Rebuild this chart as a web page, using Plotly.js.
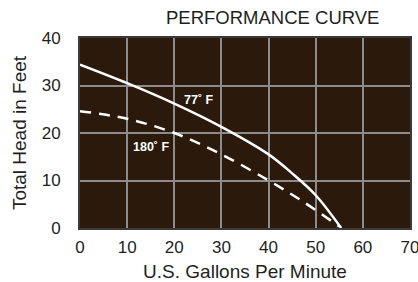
<!DOCTYPE html>
<html><head><meta charset="utf-8">
<script src="https://cdn.plot.ly/plotly-3.0.1.min.js"></script>
<style>html,body{margin:0;padding:0;background:#fff}#c{width:418px;height:282px}</style>
</head><body><div id="c"></div>
<script>
const flow77 = [0, 10, 20, 30, 40, 45, 50, 55.4];
const head77 = [34.4, 30.5, 26.2, 21.3, 15.5, 11.5, 6.9, 0];
const flow180 = [0, 10, 20, 30, 40, 47.4, 55];
const head180 = [24.6, 23, 20, 15.5, 10, 5.5, 0.3];
const labels = ["77˚ F", "180˚ F"];
const xTicks = [0, 10, 20, 30, 40, 50, 60, 70];
const yTicks = [0, 10, 20, 30, 40];

const fam = "Liberation Sans, Arial, sans-serif";
const ink = "#231f20";
Plotly.newPlot("c", [
  {x: flow77, y: head77, mode: "lines", line: {color: "#fff", width: 2.5, shape: "spline", smoothing: 1}, hoverinfo: "none"},
  {x: flow180, y: head180, mode: "lines", line: {color: "#fff", width: 2.5, dash: "11px,8px", shape: "spline", smoothing: 1}, hoverinfo: "none"}
], {
  width: 418, height: 282,
  margin: {l: 80, r: 8, t: 38, b: 54},
  showlegend: false,
  paper_bgcolor: "#fff",
  plot_bgcolor: "#2b1a0b",
  font: {family: fam, color: ink},
  title: {text: "PERFORMANCE CURVE", font: {family: fam, size: 18.5, color: ink},
    x: 0.584, xanchor: "center", xref: "paper", y: 0.96, yanchor: "top", yref: "container"},
  xaxis: {range: [0, 70], tickvals: xTicks, ticktext: xTicks.map(String), showgrid: true, gridcolor: "#8c8c8c", gridwidth: 2,
    zeroline: false, showline: true, linecolor: "#3a3a3a", linewidth: 2, mirror: true,
    ticks: "outside", ticklen: 3, tickcolor: "rgba(0,0,0,0)", ticklabeloverflow: "allow",
    tickfont: {family: fam, size: 17, color: ink},
    title: {text: "U.S. Gallons Per Minute", font: {family: fam, size: 19, color: ink}, standoff: 12}},
  yaxis: {range: [0, 40], tickvals: yTicks, ticktext: yTicks.map(String), showgrid: true, gridcolor: "#8c8c8c", gridwidth: 2,
    zeroline: false, showline: true, linecolor: "#3a3a3a", linewidth: 2, mirror: true,
    ticks: "outside", ticklen: 14, tickcolor: "rgba(0,0,0,0)", ticklabeloverflow: "allow",
    tickfont: {family: fam, size: 17, color: ink},
    title: {text: "Total Head in Feet", font: {family: fam, size: 19, color: ink}, standoff: 10}},
  annotations: [
    {x: 25.3, y: 26.9, text: "<b>" + labels[0] + "</b>", showarrow: false, font: {family: fam, size: 12.5, color: "#fff"}},
    {x: 15, y: 17, text: "<b>" + labels[1] + "</b>", showarrow: false, font: {family: fam, size: 12.5, color: "#fff"}}
  ]
}, {staticPlot: true});
</script></body></html>
